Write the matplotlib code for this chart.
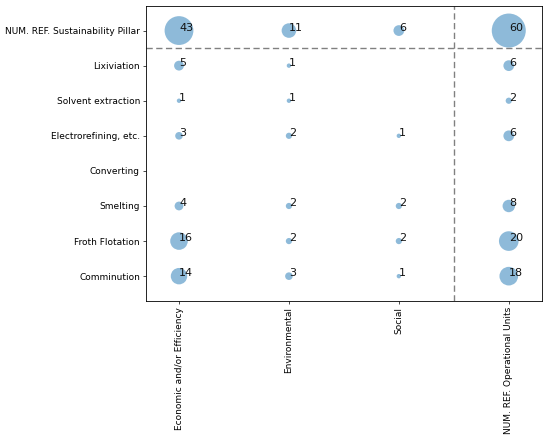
import numpy as np
import matplotlib
matplotlib.use("Agg")
import matplotlib.pyplot as plt

# Procesos (eje y, de abajo hacia arriba)
procesos = ["Comminution", "Froth Flotation", "Smelting", "Converting",
            "Electrorefining, etc.", "Solvent extraction", "Lixiviation",
            "NUM. REF. Sustainability Pillar"]

# Pilares (eje x)
pilares = ["Economic and/or Efficiency", "Environmental", "Social",
           "NUM. REF. Operational Units"]

# Número de referencias por proceso (None = sin dato)
economic = [14, 16, 4, None, 3, 1, 5, 43]
environmental = [3, 2, 2, None, 2, 1, 1, 11]
social = [1, 2, 2, None, 1, None, None, 6]
num_ref = [18, 20, 8, None, 6, 2, 6, 60]

series = [economic, environmental, social, num_ref]

fig = plt.figure(figsize=(5.5, 4.41), dpi=100)
ax = fig.add_axes([0.2655, 0.3181, 0.985 - 0.2655, 0.9864 - 0.3181])

for i, valores in enumerate(series):
    for j, v in enumerate(valores):
        if v is None:
            continue
        ax.scatter(i, j, s=v * 10, color="#1f77b4", alpha=0.5, edgecolors="none")
        ax.text(i, j, str(v), fontsize=8, color="#111111")

# Líneas de separación
ax.axvline(2.5, color="gray", linestyle="--", linewidth=1.0, dashes=(4.5, 2.5))
ax.axhline(6.5, color="gray", linestyle="--", linewidth=1.0, dashes=(4.5, 2.5))

ax.set_xlim(-0.3, 3.3)
ax.set_ylim(-0.7, 7.7)
ax.set_xticks(range(len(pilares)))
ax.set_xticklabels(pilares, rotation=90, fontsize=6.5)
ax.set_yticks(range(len(procesos)))
ax.set_yticklabels(procesos, fontsize=6.5)
ax.tick_params(length=2.2, width=0.5, pad=2.2)
for sp in ax.spines.values():
    sp.set_linewidth(0.6)

fig.savefig("out.png", dpi=100)
